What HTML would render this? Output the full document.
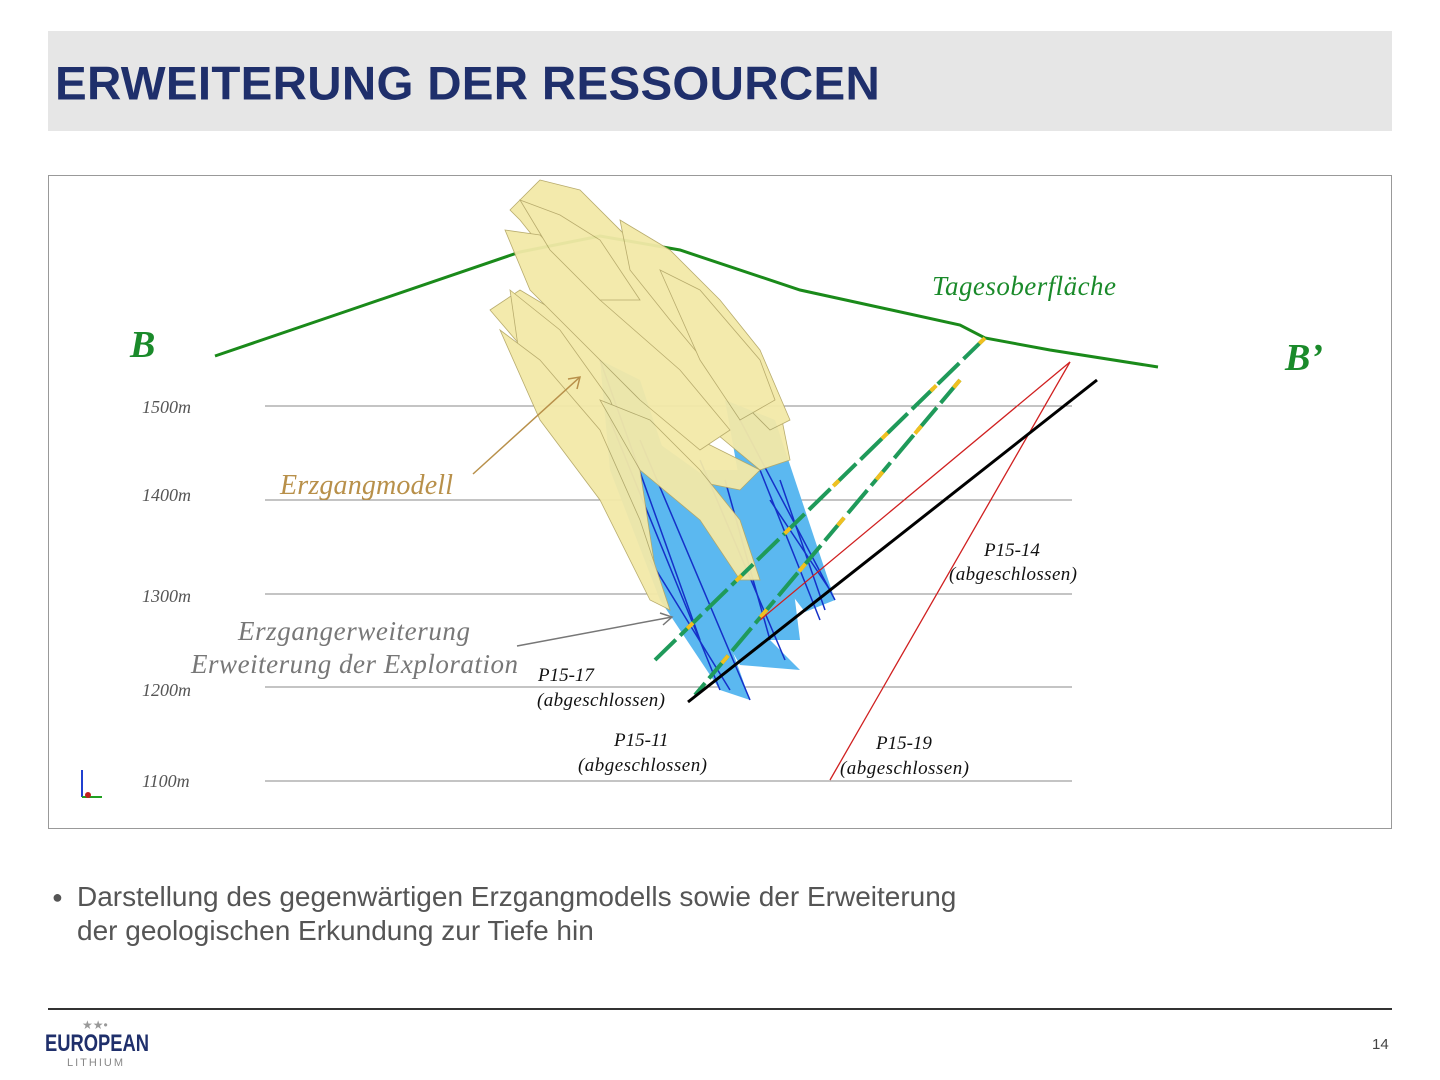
<!DOCTYPE html>
<html><head><meta charset="utf-8"><style>
body{margin:0;width:1440px;height:1080px;background:#fff;position:relative;overflow:hidden;font-family:"Liberation Sans",sans-serif}
.hdr{position:absolute;left:48px;top:31px;width:1344px;height:100px;background:#e6e6e6}
.hdr h1{margin:0;position:absolute;left:7px;top:53px;transform:translateY(-50%);font-size:47.5px;font-weight:bold;color:#1f2f6b;letter-spacing:0.3px}
.box{position:absolute;left:48px;top:175px;width:1342px;height:652px;border:1px solid #999}
.bul{position:absolute;left:52px;top:880px;font-size:28px;color:#555;line-height:34px}
.bul span{position:absolute;left:0;top:0;font-size:18px}
.rule{position:absolute;left:48px;top:1008px;width:1344px;height:2px;background:#333}
.pg{position:absolute;left:1372px;top:1036px;font-size:15px;color:#444}
</style></head><body>
<div class="hdr"><h1>ERWEITERUNG DER RESSOURCEN</h1></div>
<div class="box"></div>
<svg width="1440" height="1080" style="position:absolute;left:0;top:0" font-family="Liberation Serif,serif">
<g stroke="#888" stroke-width="1">
<line x1="265" y1="406" x2="1072" y2="406"/><line x1="265" y1="500" x2="1072" y2="500"/>
<line x1="265" y1="594" x2="1072" y2="594"/><line x1="265" y1="687" x2="1072" y2="687"/>
<line x1="265" y1="781" x2="1072" y2="781"/></g>
<g font-style="italic" font-size="18" fill="#555">
<text x="142" y="413">1500m</text><text x="142" y="501">1400m</text><text x="142" y="602">1300m</text>
<text x="142" y="696">1200m</text><text x="142" y="787">1100m</text></g>
<polyline fill="none" stroke="#1a8a1a" stroke-width="3" points="215,356 350,310 520,252 600,236 680,250 800,290 960,325 985,338 1050,350 1158,367"/>
<g fill="#5bb8f0">
<polygon points="600,360 640,380 700,560 750,700 720,690 660,600 610,470"/>
<polygon points="640,430 710,480 770,640 800,670 740,665 680,560"/>
<polygon points="725,400 775,420 835,600 805,612 750,540"/>
<polygon points="700,470 760,470 790,560 800,640 770,640 730,560"/>
</g>
<g stroke="#1530c8" stroke-width="1.5" fill="none">
<line x1="600" y1="360" x2="700" y2="640"/><line x1="610" y1="420" x2="720" y2="690"/>
<line x1="640" y1="440" x2="750" y2="700"/><line x1="700" y1="460" x2="785" y2="660"/>
<line x1="740" y1="420" x2="835" y2="600"/><line x1="760" y1="470" x2="820" y2="620"/>
<line x1="770" y1="500" x2="830" y2="590"/><line x1="650" y1="560" x2="730" y2="690"/>
<line x1="725" y1="480" x2="770" y2="640"/><line x1="780" y1="480" x2="825" y2="610"/>
</g>
<g fill="#f3e9a8" stroke="#b5a866" stroke-width="0.8" opacity="0.95">
<polygon points="540,180 580,190 650,260 720,320 780,410 790,460 760,470 700,420 620,330 560,270 520,220 510,210"/>
<polygon points="490,310 520,290 570,320 640,390 700,440 760,470 740,490 690,480 640,460 600,420 550,380"/>
<polygon points="505,230 540,235 600,300 680,370 730,430 700,450 640,400 580,340 530,290"/>
<polygon points="620,220 670,250 720,300 760,350 790,420 770,430 720,380 670,320 630,270"/>
<polygon points="510,290 560,330 610,400 640,470 660,600 640,560 600,480 560,420 520,360"/>
<polygon points="500,330 540,360 600,430 640,520 670,610 650,600 600,500 540,420"/>
<polygon points="600,400 650,420 700,470 740,520 760,580 740,580 700,520 640,470"/>
<polygon points="660,270 700,290 760,360 775,400 740,420 700,360"/>
<polygon points="520,200 560,215 600,240 640,300 600,300 550,250"/>
</g>
<line x1="985" y1="338" x2="655" y2="660" stroke="#1f9a5a" stroke-width="4" stroke-dasharray="30 6"/>
<line x1="985" y1="338" x2="655" y2="660" stroke="#f0c020" stroke-width="4" stroke-dasharray="8 60"/>
<line x1="960" y1="380" x2="695" y2="695" stroke="#1f9a5a" stroke-width="4" stroke-dasharray="30 6"/>
<line x1="960" y1="380" x2="695" y2="695" stroke="#f0c020" stroke-width="4" stroke-dasharray="10 50"/>
<line x1="1070" y1="362" x2="760" y2="620" stroke="#d02020" stroke-width="1.3"/>
<line x1="1070" y1="362" x2="830" y2="780" stroke="#d02020" stroke-width="1.3"/>
<line x1="1097" y1="380" x2="688" y2="702" stroke="#000" stroke-width="3"/>
<line x1="473" y1="474" x2="580" y2="377" stroke="#b8904a" stroke-width="1.5"/>
<polyline points="568,379 580,377 577,389" fill="none" stroke="#b8904a" stroke-width="1.5"/>
<line x1="517" y1="646" x2="672" y2="617" stroke="#777" stroke-width="1.5"/>
<polyline points="660,613 672,617 663,625" fill="none" stroke="#777" stroke-width="1.5"/>
<text x="130" y="357" font-size="38" font-weight="bold" font-style="italic" fill="#1a8a2a">B</text>
<text x="1285" y="370" font-size="38" font-weight="bold" font-style="italic" fill="#1a8a2a">B’</text>
<text x="932" y="295" font-size="27" font-style="italic" fill="#1a8a2a" textLength="184">Tagesoberfläche</text>
<text x="280" y="494" font-size="28" font-style="italic" fill="#b8904a" textLength="173">Erzgangmodell</text>
<text x="238" y="640" font-size="27" font-style="italic" fill="#777" textLength="232">Erzgangerweiterung</text>
<text x="191" y="673" font-size="27" font-style="italic" fill="#777" textLength="327">Erweiterung der Exploration</text>
<g font-size="19" font-style="italic" fill="#111">
<text x="538" y="681">P15-17</text><text x="537" y="706" textLength="128">(abgeschlossen)</text>
<text x="614" y="746">P15-11</text><text x="578" y="771" textLength="129">(abgeschlossen)</text>
<text x="984" y="556">P15-14</text><text x="949" y="580" textLength="128">(abgeschlossen)</text>
<text x="876" y="749">P15-19</text><text x="840" y="774" textLength="129">(abgeschlossen)</text>
</g>
<line x1="82" y1="770" x2="82" y2="797" stroke="#2040d0" stroke-width="2"/>
<line x1="82" y1="797" x2="102" y2="797" stroke="#20a020" stroke-width="2"/>
<circle cx="88" cy="795" r="3" fill="#c02020"/>
<text x="82" y="1029" font-size="12" fill="#999" font-family="Liberation Sans">★★•</text>
<text x="45" y="1051" font-size="24" font-weight="bold" fill="#1f2f6b" font-family="Liberation Sans" textLength="104" lengthAdjust="spacingAndGlyphs">EUROPEAN</text>
<text x="67" y="1066" font-size="11" fill="#888" font-family="Liberation Sans" letter-spacing="2">LITHIUM</text>
</svg>
<div class="bul"><span>●</span><div style="padding-left:25px">Darstellung des gegenwärtigen Erzgangmodells sowie der Erweiterung<br>der geologischen Erkundung zur Tiefe hin</div></div>
<div class="rule"></div>
<div class="pg">14</div>
</body></html>
